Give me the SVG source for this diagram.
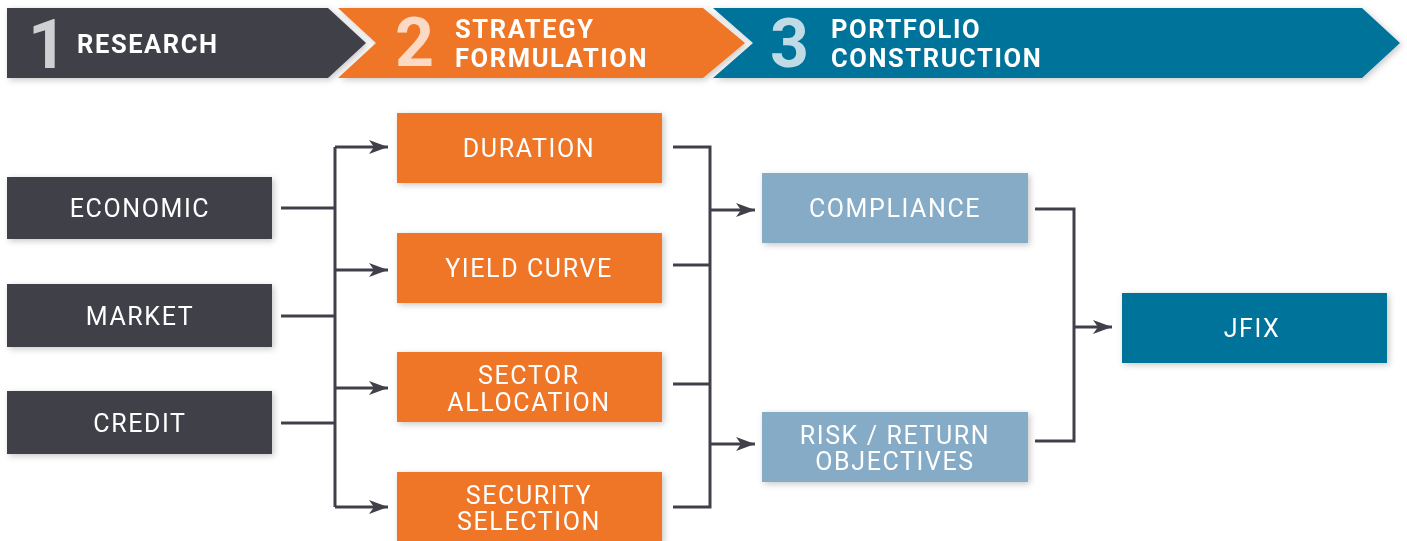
<svg xmlns="http://www.w3.org/2000/svg" width="1407" height="541" viewBox="0 0 1407 541">
  <style>
    .banner-num { font-family: Roboto, "Liberation Sans", sans-serif; font-weight: 700; font-size: 68px; }
    .banner-txt { font-family: Roboto, "Liberation Sans", sans-serif; font-weight: 700; font-size: 25.5px; fill: #ffffff; letter-spacing: 1.6px; }
    .node-txt { font-family: Roboto, "Liberation Sans", sans-serif; font-weight: 400; font-size: 25px; fill: #ffffff; letter-spacing: 1.6px; text-anchor: middle; }
    .dark { fill: #41404a; }
    .orange { fill: #ef7626; }
    .light { fill: #85abc7; }
    .teal { fill: #00739a; }
    .conn { fill: none; stroke: #41404a; stroke-width: 3; }
  </style>
  <defs>
    <filter id="shadow" x="-10%" y="-20%" width="120%" height="150%">
      <feDropShadow dx="2" dy="2" stdDeviation="3" flood-color="#000000" flood-opacity="0.22"/>
    </filter>
    <marker id="arrow" markerWidth="22" markerHeight="16" refX="19" refY="8" orient="auto" markerUnits="userSpaceOnUse">
      <path d="M0,1 L19,8 L0,15 L5,8 Z" fill="#41404a"/>
    </marker>
  </defs>

  <!-- Banner -->
  <g id="banner">
    <g id="step1" filter="url(#shadow)">
      <polygon class="dark" points="7,8 328,8 366,43 328,78 7,78"/>
      <text class="banner-num" x="28" y="68" fill="#d0d0d3">1</text>
      <text class="banner-txt" x="77" y="53">RESEARCH</text>
    </g>
    <g id="step2" filter="url(#shadow)">
      <polygon class="orange" points="338,8 703,8 745,43 703,78 338,78 376,43"/>
      <text class="banner-num" x="395" y="66" fill="#fbd9c4">2</text>
      <text class="banner-txt" x="455" y="38">STRATEGY</text>
      <text class="banner-txt" x="455" y="67">FORMULATION</text>
    </g>
    <g id="step3" filter="url(#shadow)">
      <polygon class="teal" points="713,8 1362,8 1400,43 1362,78 713,78 753,43"/>
      <text class="banner-num" x="770" y="67" fill="#bedbe6">3</text>
      <text class="banner-txt" x="831" y="38">PORTFOLIO</text>
      <text class="banner-txt" x="831" y="67">CONSTRUCTION</text>
    </g>
  </g>

  <!-- Connectors -->
  <g id="connectors">
    <path class="conn" d="M281,208 H335"/>
    <path class="conn" d="M281,316 H335"/>
    <path class="conn" d="M281,423 H335"/>
    <path class="conn" d="M335,147 V507"/>
    <path class="conn" d="M335,147 H388" marker-end="url(#arrow)"/>
    <path class="conn" d="M335,270 H388" marker-end="url(#arrow)"/>
    <path class="conn" d="M335,388 H388" marker-end="url(#arrow)"/>
    <path class="conn" d="M335,507 H388" marker-end="url(#arrow)"/>

    <path class="conn" d="M673,147 H710 V507 H673"/>
    <path class="conn" d="M673,265 H710"/>
    <path class="conn" d="M673,384 H710"/>
    <path class="conn" d="M710,210 H755" marker-end="url(#arrow)"/>
    <path class="conn" d="M710,444 H755" marker-end="url(#arrow)"/>

    <path class="conn" d="M1035,209 H1074 V441 H1035"/>
    <path class="conn" d="M1074,327 H1112" marker-end="url(#arrow)"/>
  </g>

  <!-- Research nodes -->
  <g id="economic" filter="url(#shadow)">
    <rect class="dark" x="7" y="177" width="265" height="62"/>
    <text class="node-txt" x="140" y="217">ECONOMIC</text>
  </g>
  <g id="market" filter="url(#shadow)">
    <rect class="dark" x="7" y="284" width="265" height="63"/>
    <text class="node-txt" x="140" y="325">MARKET</text>
  </g>
  <g id="credit" filter="url(#shadow)">
    <rect class="dark" x="7" y="391" width="265" height="63"/>
    <text class="node-txt" x="140" y="432">CREDIT</text>
  </g>

  <!-- Strategy nodes -->
  <g id="duration" filter="url(#shadow)">
    <rect class="orange" x="397" y="113" width="265" height="70"/>
    <text class="node-txt" x="529" y="157">DURATION</text>
  </g>
  <g id="yield-curve" filter="url(#shadow)">
    <rect class="orange" x="397" y="233" width="265" height="70"/>
    <text class="node-txt" x="529" y="277">YIELD CURVE</text>
  </g>
  <g id="sector-allocation" filter="url(#shadow)">
    <rect class="orange" x="397" y="352" width="265" height="70"/>
    <text class="node-txt" x="529" y="384">SECTOR</text>
    <text class="node-txt" x="529" y="411">ALLOCATION</text>
  </g>
  <g id="security-selection" filter="url(#shadow)">
    <rect class="orange" x="397" y="472" width="265" height="70"/>
    <text class="node-txt" x="529" y="504">SECURITY</text>
    <text class="node-txt" x="529" y="530">SELECTION</text>
  </g>

  <!-- Portfolio construction nodes -->
  <g id="compliance" filter="url(#shadow)">
    <rect class="light" x="762" y="173" width="266" height="70"/>
    <text class="node-txt" x="895" y="217">COMPLIANCE</text>
  </g>
  <g id="risk-return" filter="url(#shadow)">
    <rect class="light" x="762" y="412" width="266" height="70"/>
    <text class="node-txt" x="895" y="444">RISK / RETURN</text>
    <text class="node-txt" x="895" y="470">OBJECTIVES</text>
  </g>
  <g id="jfix" filter="url(#shadow)">
    <rect class="teal" x="1122" y="293" width="265" height="70"/>
    <text class="node-txt" x="1252" y="337">JFIX</text>
  </g>
</svg>
